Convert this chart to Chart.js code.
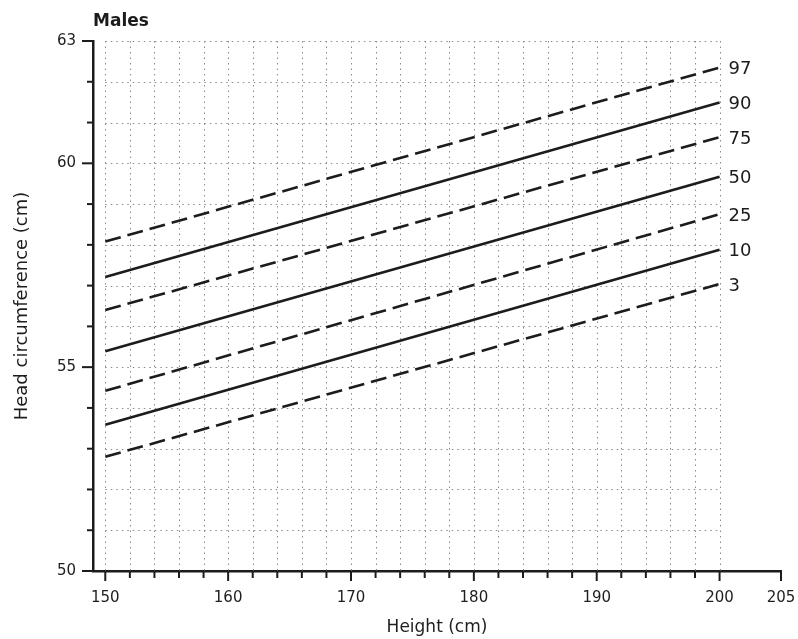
<!DOCTYPE html>
<html lang="en">
<head>
<meta charset="UTF-8">
<title>Head circumference for height - Males</title>
<script src="https://cdn.jsdelivr.net/npm/chart.js"></script>
<style>
    body { margin: 0; background: #fff; }
    #wrap { width: 798px; height: 639px; }
</style>
</head>
<body>
<div id="wrap"><canvas id="chart" width="798" height="639"></canvas></div>
<script>
// --- data (head circumference, cm) ---
const heights = [150, 200];
const centiles = ['97', '90', '75', '50', '25', '10', '3'];
const p97 = [58.08, 62.35];
const p90 = [57.21, 61.49];
const p75 = [56.40, 60.64];
const p50 = [55.39, 59.67];
const p25 = [54.42, 58.75];
const p10 = [53.59, 57.88];
const p3 = [52.80, 57.04];
const xTickLabels = [150, 160, 170, 180, 190, 200, 205];
const yTickLabels = [50, 55, 60, 63];

const series = [p97, p90, p75, p50, p25, p10, p3];
const dashed = [true, false, true, false, true, false, true];
const ink = '#1c1c1c';
const font = '"DejaVu Sans", "Liberation Sans", Arial, sans-serif';

const datasets = series.map((vals, i) => ({
    label: centiles[i],
    data: heights.map((h, j) => ({ x: h, y: vals[j] })),
    borderColor: ink,
    borderWidth: 2.6,
    borderDash: dashed[i] ? [16, 7] : [],
    pointRadius: 0,
    fill: false
}));

// dotted grid (150-200 only), ticks and end labels
const chartDecor = {
    id: 'chartDecor',
    beforeDatasetsDraw(chart) {
        const { ctx, scales: { x, y } } = chart;
        ctx.save();
        ctx.strokeStyle = '#8a8a8a';
        ctx.lineWidth = 1;
        ctx.setLineDash([1.5, 4]);
        for (let h = 150; h <= 200; h += 2) {
            const px = Math.round(x.getPixelForValue(h)) + 0.5;
            ctx.beginPath();
            ctx.moveTo(px, y.getPixelForValue(63));
            ctx.lineTo(px, y.getPixelForValue(50));
            ctx.stroke();
        }
        for (let c = 51; c <= 63; c++) {
            const py = Math.round(y.getPixelForValue(c)) + 0.5;
            ctx.beginPath();
            ctx.moveTo(x.getPixelForValue(150), py);
            ctx.lineTo(x.getPixelForValue(200), py);
            ctx.stroke();
        }
        ctx.restore();
    },
    afterDraw(chart) {
        const { ctx, scales: { x, y }, chartArea } = chart;
        ctx.save();
        ctx.strokeStyle = ink;
        ctx.lineWidth = 2;
        // x ticks
        const xt = [];
        for (let h = 150; h <= 200; h += 2) xt.push(h);
        xt.push(205);
        xt.forEach(h => {
            const px = x.getPixelForValue(h);
            const len = (h % 10 === 0 || h === 205) ? 10 : 7;
            ctx.beginPath();
            ctx.moveTo(px, chartArea.bottom);
            ctx.lineTo(px, chartArea.bottom + len);
            ctx.stroke();
        });
        // y ticks
        for (let c = 50; c <= 63; c++) {
            const py = y.getPixelForValue(c);
            const len = yTickLabels.includes(c) ? 11 : 6;
            ctx.beginPath();
            ctx.moveTo(chartArea.left, py);
            ctx.lineTo(chartArea.left - len, py);
            ctx.stroke();
        }
        // centile labels at line ends
        ctx.fillStyle = ink;
        ctx.font = '18px ' + font;
        ctx.textBaseline = 'middle';
        series.forEach((vals, i) => {
            const px = x.getPixelForValue(heights[1]) + 9;
            const py = y.getPixelForValue(vals[1]) + 2;
            ctx.fillText(centiles[i], px, py);
        });
        // panel title
        ctx.font = 'bold 17px ' + font;
        ctx.textBaseline = 'alphabetic';
        ctx.fillText('Males', chartArea.left, 26);
        ctx.restore();
    }
};

new Chart(document.getElementById('chart'), {
    type: 'line',
    data: { datasets },
    options: {
        responsive: false,
        animation: false,
        layout: { padding: { top: 41, right: 17, left: 0, bottom: 0 } },
        plugins: {
            legend: { display: false },
            tooltip: { enabled: false }
        },
        scales: {
            x: {
                type: 'linear',
                min: 149,
                max: 205,
                afterBuildTicks: s => { s.ticks = xTickLabels.map(v => ({ value: v })); },
                afterFit: s => { s.height = 68; s.paddingLeft = 0; s.paddingRight = 0; },
                grid: { drawOnChartArea: false, drawTicks: false },
                border: { display: true, color: ink, width: 2.5 },
                ticks: { color: '#1e1e1e', padding: 18, font: { size: 15, family: font }, maxRotation: 0, autoSkip: false },
                title: { display: true, text: 'Height (cm)', color: '#1e1e1e', padding: { top: 0, bottom: 1 }, font: { size: 17, family: font } }
            },
            y: {
                min: 50,
                max: 63,
                afterBuildTicks: s => { s.ticks = yTickLabels.map(v => ({ value: v })); },
                afterFit: s => { s.width = 93; s.paddingTop = 0; s.paddingBottom = 0; },
                grid: { drawOnChartArea: false, drawTicks: false },
                border: { display: true, color: ink, width: 2.5 },
                ticks: { color: '#1e1e1e', padding: 17, font: { size: 15, family: font } },
                title: { display: true, text: 'Head circumference (cm)', color: '#1e1e1e', padding: { top: 12, bottom: 0 }, font: { size: 18, family: font } }
            }
        }
    },
    plugins: [chartDecor]
});
</script>
</body>
</html>
